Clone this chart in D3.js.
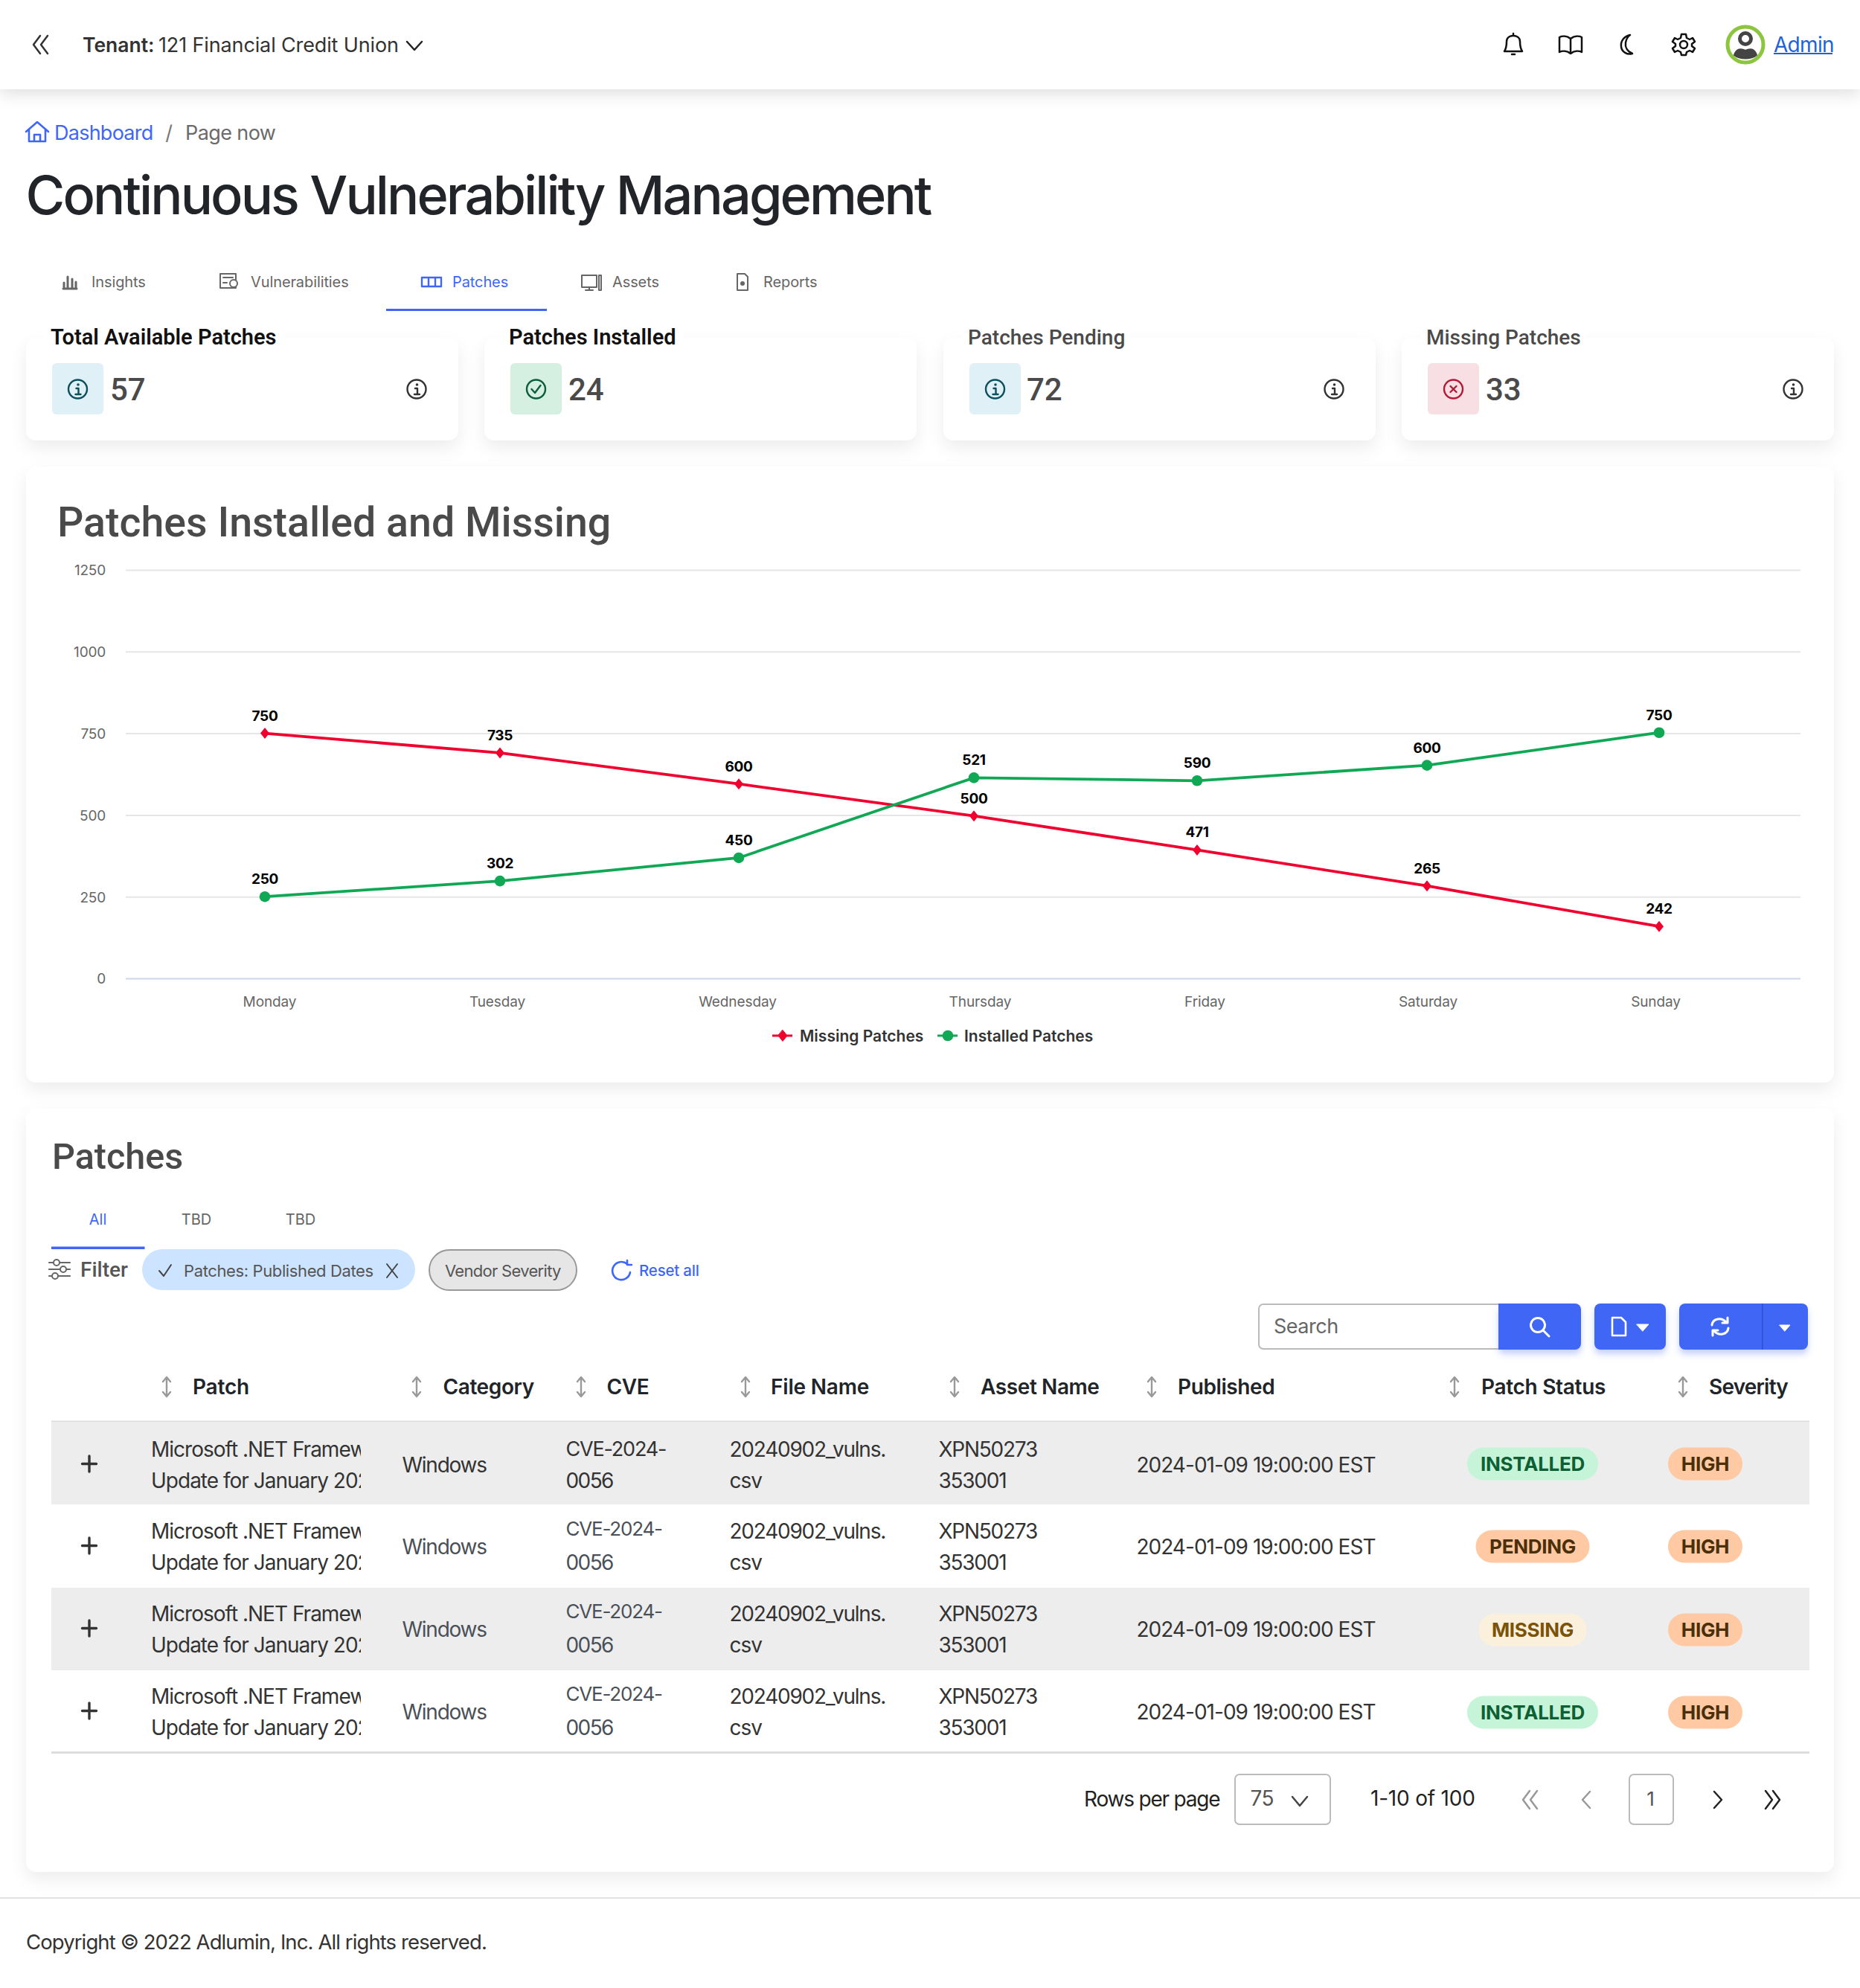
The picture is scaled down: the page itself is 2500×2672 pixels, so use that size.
<!DOCTYPE html>
<html><head><meta charset="utf-8">
<script src="https://cdn.jsdelivr.net/npm/d3@7"></script>
<style>html,body{margin:0;padding:0;background:#fff}svg{display:block}text{white-space:pre}</style>
</head><body><div id="chart"></div>
<script>
const days = ["Monday","Tuesday","Wednesday","Thursday","Friday","Saturday","Sunday"];
const missingValues = [750,690,595,497,393,283,159];
const installedValues = [250,298,369,614,605,652,752];
const missingLabels = [750,735,600,500,471,265,242];
const installedLabels = [250,302,450,521,590,600,750];
const yTicks = [0,250,500,750,1000,1250];
const seriesNames = ["Missing Patches","Installed Patches"];
const kpiTitles = ["Total Available Patches","Patches Installed","Patches Pending","Missing Patches"];
const kpiValues = [57,24,72,33];
const navTabs = ["Insights","Vulnerabilities","Patches","Assets","Reports"];
const tableTabs = ["All","TBD","TBD"];
const columns = ["Patch","Category","CVE","File Name","Asset Name","Published","Patch Status","Severity"];
const patchStatus = ["INSTALLED","PENDING","MISSING","INSTALLED"];
const patchSeverity = ["HIGH","HIGH","HIGH","HIGH"];

const FI="Inter, sans-serif", FR="Roboto, sans-serif";
const BLUE="#3f66f6";
const svg=d3.select("#chart").append("svg").attr("width",2500).attr("height",2672).attr("viewBox","0 0 2500 2672");
svg.append("rect").attr("width",2500).attr("height",2672).attr("fill","#fff");
const defs=svg.append("defs");
function shadow(id,dy,blur,color,op){
  const f=defs.append("filter").attr("id",id).attr("x","-10%").attr("y","-30%").attr("width","120%").attr("height","170%");
  f.append("feDropShadow").attr("dx",0).attr("dy",dy).attr("stdDeviation",blur).attr("flood-color",color).attr("flood-opacity",op);
}
shadow("sh",10,11,"#000",.07);
shadow("shH",6,11,"#000",.13);
shadow("shB",6,4,"#3f66f6",.3);
defs.append("clipPath").attr("id","patchClip").append("rect").attr("x",195).attr("y",1900).attr("width",290).attr("height",460);

function T(x,y,s,o={}){
  return svg.append("text").attr("x",x).attr("y",y).text(s)
    .attr("font-family",o.f||FI).attr("font-size",o.s||28).attr("font-weight",o.w||400)
    .attr("letter-spacing",o.ls||0)
    .attr("fill",o.c||"#333").attr("text-anchor",o.a||"start").attr("dominant-baseline","central");
}
function P(d,x,y,o={}){
  return svg.append("path").attr("d",d).attr("transform",`translate(${x},${y})`)
    .attr("fill",o.fill||"none").attr("stroke",o.c||"#222").attr("stroke-width",o.w||2.5)
    .attr("stroke-linecap","round").attr("stroke-linejoin","round");
}
function R(x,y,w,h,r,fill,o={}){
  const e=svg.append("rect").attr("x",x).attr("y",y).attr("width",w).attr("height",h).attr("rx",r).attr("fill",fill);
  if(o.stroke)e.attr("stroke",o.stroke).attr("stroke-width",o.sw||2);
  if(o.filter)e.attr("filter",`url(#${o.filter})`);
  return e;
}
const chev2=(c,o)=>{P("M-1,-12 L-10,0 L-1,12 M9,-12 L0,0 L9,12",0,0,{c,w:2.5}).attr("transform",o)};

// ---- header
R(0,-20,2500,140,0,"#fff",{filter:"shH"});
chev2("#333","translate(55,60)");
T(111,60,"Tenant:",{s:26.5,w:600,c:"#333"});
T(213,60,"121 Financial Credit Union",{s:27,c:"#333",ls:-.13});
P("M-10,-5 L0,6 L10,-5",557,61,{c:"#222"});
P("M-12,9 C-9,4 -9,0 -9,-4 C-9,-10 -4,-12 0,-12 C4,-12 9,-10 9,-4 C9,0 9,4 12,9 Z M0,-12 L0,-15 M-2,13 L2,13",2034,60,{c:"#111"});
P("M0,-8 C-5,-12 -11,-12 -15,-10 L-15,10 C-11,8 -5,8 0,12 C5,8 11,8 15,10 L15,-10 C11,-12 5,-12 0,-8 Z M0,-8 L0,12",2111,60,{c:"#111"});
P("M4,-13 C-5,-11 -9,-4 -8,3 C-7,10 0,14 7,12 C0,9 -3,3 -2,-3 C-1,-8 1,-11 4,-13 Z",2187,60,{c:"#111"});
P("M-3,-14 L3,-14 L4,-9 L8,-7 L12,-9 L15,-4 L11,-1 L11,2 L15,5 L12,10 L8,8 L4,10 L3,14 L-3,14 L-4,10 L-8,8 L-12,10 L-15,5 L-11,2 L-11,-1 L-15,-4 L-12,-9 L-8,-7 L-4,-9 Z",2263,60,{c:"#111"});
svg.append("circle").attr("cx",2263).attr("cy",60).attr("r",5).attr("fill","none").attr("stroke","#111").attr("stroke-width",2.5);
svg.append("circle").attr("cx",2346).attr("cy",60).attr("r",24).attr("fill","#fff").attr("stroke","#8cc63f").attr("stroke-width",5);
svg.append("circle").attr("cx",2346).attr("cy",52).attr("r",7.5).attr("fill","none").attr("stroke","#444").attr("stroke-width",5);
P("M-15,14 C-12,5 -6,5 0,8 C6,5 12,5 15,14 C8,20 -8,20 -15,14 Z",2346,60,{c:"#444",fill:"#444",w:2});
T(2384,60,"Admin",{s:28,c:"#1d63d8",ls:-.7});
R(2384,71,79,2,0,"#1d63d8");

// ---- breadcrumb + title
P("M-15,0 L0,-13 L15,0 M-11,-3 L-11,13 L11,13 L11,-3 M-4,13 L-4,4 L4,4 L4,13",50,177,{c:BLUE,w:2.6});
T(73,178,"Dashboard",{s:27,c:BLUE,ls:-.75});
T(227,178,"/",{s:27,c:"#777",a:"middle"});
T(249,178,"Page now",{s:27,c:"#6b6b6b",ls:-.6});
T(34.5,261,"Continuous Vulnerability Management",{s:72,w:500,c:"#212529",ls:-2.9});

// ---- nav tabs
const navX=[123,337,608,823,1026];
navTabs.forEach((t,i)=>T(navX[i],379,t,{s:20,c:i==2?BLUE:"#666",ls:-.1}));
const g="#666";
P("M-9,9 L-9,1 M-4,9 L-4,-7 M2,9 L2,-4 M7,9 L7,0 M-10,9 L8,9",95,379,{c:g,w:3});
P("M-12,-10 L9,-10 L9,9 L-12,9 Z M-8,-5 L5,-5 M-8,2 L-3,2",308,378,{c:g,w:2});
svg.append("circle").attr("cx",314).attr("cy",381).attr("r",5).attr("fill","#fff").attr("stroke",g).attr("stroke-width",2);
P("M-13,-6 L13,-6 L13,6 L-13,6 Z M-4,-6 L-4,6 M5,-6 L5,6",580,379,{c:BLUE,w:2.4});
P("M-13,-9 L7,-9 L7,7 L-13,7 Z M-3,7 L-3,11 M-8,11 L2,11 M10,-9 L13,-9 L13,11 L10,11 Z",795,379,{c:g,w:2});
P("M-7,-11 L3,-11 L7,-7 L7,11 L-7,11 Z",998,379,{c:g,w:2});
svg.append("circle").attr("cx",998).attr("cy",381).attr("r",3).attr("fill",g);
R(519,415,216,3,0,BLUE);

// ---- KPI cards
const cardX=[35,651,1268,1884], kpiSq=["#dff0f6","#d5efe0","#dff0f6","#f8dfe3"], kpiIc=["#0d4f5c","#0d5c3c","#0d4f5c","#b01c38"];
const kpiTitleC=["#111","#111","#4a4a4a","#4a4a4a"];
const infoI=(x,y,c)=>{
  svg.append("circle").attr("cx",x).attr("cy",y).attr("r",12.5).attr("fill","none").attr("stroke",c).attr("stroke-width",2.4);
  P("M-2,-1 L1,-1 L1,7 M-3,7 L4,7",x,y,{c,w:2.4});
  svg.append("circle").attr("cx",x+.5).attr("cy",y-6).attr("r",1.8).attr("fill",c);
};
kpiTitles.forEach((t,i)=>{
  const x=cardX[i];
  R(x,454,581,138,14,"#fff",{filter:"sh"});
  R(x+24,440,[323,244,227,224][i],24,0,"#fff");
  T(x+33,453,t,{f:FR,s:i<2?29:28,w:i<2?600:500,c:kpiTitleC[i]});
  R(x+35,488,69,69,6,kpiSq[i]);
  const c=kpiIc[i], ix=x+69.5;
  if(i==1){svg.append("circle").attr("cx",ix).attr("cy",523).attr("r",12.5).attr("fill","none").attr("stroke",c).attr("stroke-width",2.4);P("M-6,0 L-1.5,5 L6,-5",ix,523,{c,w:2.4});}
  else if(i==3){svg.append("circle").attr("cx",ix).attr("cy",523).attr("r",12.5).attr("fill","none").attr("stroke",c).attr("stroke-width",2.4);P("M-4,-4 L4,4 M4,-4 L-4,4",ix,523,{c,w:2.4});}
  else infoI(ix,523,c);
  T(x+[113,113,112,113][i],523,String(kpiValues[i]),{f:FR,s:42,w:500,c:"#4a4a4a"});
  if(i!=1) infoI(x+[525,0,525,526][i],523,"#333");
});

// ---- chart card
R(35,627,2430,828,14,"#fff",{filter:"sh"});
T(77,702,"Patches Installed and Missing",{f:FR,s:55.5,w:500,c:"#4a4a4a"});

const pointX=d3.scaleOrdinal(days,[356,672,993,1309,1609,1918,2230]);
const labelX=d3.scaleOrdinal(days,[362,668,991,1317,1619,1919,2225]);
const y=d3.scaleLinear().domain([0,1250]).range([1315,766]);
const gridLeft=169, gridRight=2420;

const yAxis=svg.append("g").attr("transform",`translate(${gridLeft},0)`)
  .call(d3.axisLeft(y).tickValues(yTicks).tickFormat(d3.format("d")).tickSize(-(gridRight-gridLeft)).tickPadding(27));
yAxis.select(".domain").remove();
yAxis.selectAll(".tick line").attr("stroke",d=>d===0?"#ccd6eb":"#e6e6e6").attr("stroke-width",2);
yAxis.selectAll(".tick text").attr("font-family",FI).attr("font-size",19).attr("fill","#666").attr("letter-spacing",-.2).attr("dy","0.36em");

const xAxis=svg.append("g").attr("transform","translate(0,1315)")
  .call(d3.axisBottom(labelX).tickSize(0).tickPadding(25));
xAxis.select(".domain").remove();
xAxis.selectAll(".tick text").attr("font-family",FI).attr("font-size",19).attr("fill","#666").attr("letter-spacing",-.1);

const line=v=>d3.line().x((d,i)=>pointX(days[i])).y(d=>y(d))(v);
const RED="#f0002e", GREEN="#10a855";
svg.append("path").attr("d",line(missingValues)).attr("fill","none").attr("stroke",RED).attr("stroke-width",3.8);
svg.append("path").attr("d",line(installedValues)).attr("fill","none").attr("stroke",GREEN).attr("stroke-width",3.8);
const diamond="M0,-7.5 L6,0 L0,7.5 L-6,0 Z";
svg.selectAll("path.mk").data(missingValues).join("path").attr("class","mk").attr("d",diamond)
  .attr("transform",(d,i)=>`translate(${pointX(days[i])},${y(d)})`).attr("fill",RED);
svg.selectAll("circle.mk").data(installedValues).join("circle").attr("class","mk")
  .attr("cx",(d,i)=>pointX(days[i])).attr("cy",d=>y(d)).attr("r",7.3).attr("fill",GREEN);
const dl=(vals,labs,cls)=>svg.selectAll("text."+cls).data(vals).join("text").attr("class",cls)
  .attr("x",(d,i)=>pointX(days[i])).attr("y",d=>y(d)-23.5).attr("text-anchor","middle").attr("dominant-baseline","central")
  .attr("font-family",FI).attr("font-size",19).attr("font-weight",700).attr("letter-spacing",-.3).attr("fill","#000").text((d,i)=>labs[i]);
dl(missingValues,missingLabels,"dlm");
dl(installedValues,installedLabels,"dli");

// legend
R(1038,1390.5,27,3,0,RED); P(diamond,1052,1392,{c:RED,fill:RED,w:1});
T(1075,1392,seriesNames[0],{s:21,w:600,c:"#333"});
R(1260,1390.5,27,3,0,GREEN); svg.append("circle").attr("cx",1274).attr("cy",1392).attr("r",7.3).attr("fill",GREEN);
T(1296,1392,seriesNames[1],{s:21,w:600,c:"#333"});

// ---- table card
R(35,1490,2430,1026,14,"#fff",{filter:"sh"});
T(70,1554,"Patches",{f:FR,s:48.5,w:500,c:"#4a4a4a"});
tableTabs.forEach((t,i)=>T([131.5,264,404][i],1639,t,{s:20,c:i==0?BLUE:"#666",a:"middle"}));
R(69,1675.5,125.5,3.5,0,BLUE);

// filter row
P("M-14,-9 L14,-9 M-14,0 L14,0 M-14,9 L14,9",80,1706,{c:"#666",w:2.2});
[[-4,-9],[5,0],[-6,9]].forEach(p=>svg.append("circle").attr("cx",80+p[0]).attr("cy",1706+p[1]).attr("r",4).attr("fill","#fff").attr("stroke","#666").attr("stroke-width",2));
T(108,1706,"Filter",{f:FR,s:28,w:500,c:"#555"});
R(191,1679,367,55,27.5,"#cce4ff");
P("M-8,0 L-2,7 L8,-8",222,1708,{c:"#444",w:2});
T(247,1708,"Patches: Published Dates",{s:22,c:"#555",ls:-.38});
P("M-7,-9 L7,9 M7,-9 L-7,9",527,1708,{c:"#444",w:2});
R(577,1680,198,54,27,"#e6e6e6",{stroke:"#999",sw:2});
T(598,1708,"Vendor Severity",{s:22,c:"#555",ls:-.7});
P("M8,-9 A12,12 0 1 0 12,2 M8,-14 L8,-8 L14,-8",835,1708,{c:BLUE,w:2.6});
T(859,1707,"Reset all",{s:20.5,w:500,c:BLUE,ls:-.2});

// search + buttons
R(1692,1753,330,60,6,"#fff",{stroke:"#bbb",sw:2});
T(1712,1782,"Search",{s:27,c:"#666",ls:-.5});
R(2014,1752,111,62,8,BLUE,{filter:"shB"}); R(2014,1752,20,62,0,BLUE);
svg.append("circle").attr("cx",2067).attr("cy",1781).attr("r",9.5).attr("fill","none").attr("stroke","#fff").attr("stroke-width",3);
P("M5,5 L13,13",2069,1783,{c:"#fff",w:3});
R(2143,1752,96,62,8,BLUE,{filter:"shB"});
P("M-9,-12 L3,-12 L9,-6 L9,12 L-9,12 Z",2176,1783,{c:"#fff",w:2.6});
P("M-8,-4 L8,-4 L0,5 Z",2208,1784,{c:"#fff",fill:"#fff",w:1});
R(2257,1752,173,62,8,BLUE,{filter:"shB"});
R(2368,1752,1.5,62,0,"#2f4fcf");
P("M-11,-2 C-10,-11 2,-13 8,-6 M10,-12 L10,-5 L3,-5 M11,2 C10,11 -2,13 -8,6 M-10,12 L-10,5 L-3,5",2312,1783,{c:"#fff",w:3});
P("M-7,-4 L7,-4 L0,4 Z",2399,1785,{c:"#fff",fill:"#fff",w:1});

// table header
const headX=[259,595.5,815.5,1036,1318,1583,1991,2297], arrX=[224,560,781,1002,1283,1548,1955,2262];
const headLs=[-.2,-.4,-.4,-.2,-.4,-.4,-.3,-.8];
columns.forEach((c,i)=>{
  T(headX[i],1863.5,c,{s:28,w:600,c:"#212529",ls:headLs[i]});
  P("M0,-12 L0,12 M-5,-7 L0,-13 L5,-7 M-5,7 L0,13 L5,7",arrX[i],1864,{c:"#999",w:2.4});
});
R(69,1909.5,2363,2,0,"#ddd");

// rows
const rowTop=[1911,2022,2134,2245], rowH=111;
const statusStyle={INSTALLED:{bg:"#c6f4d8",fg:"#0d6033",w:176},PENDING:{bg:"#ffc9a3",fg:"#4a2f08",w:153},MISSING:{bg:"#fbf0dc",fg:"#7a5208",w:145}};
rowTop.forEach((top,i)=>{
  if(i%2==0) R(69,top,2363,rowH,0,"#ededed");
  const cy=top+rowH/2+[2,1,0,0][i], dark="#333", soft="#4a5058";
  P("M-9.5,0 L9.5,0 M0,-10.5 L0,10.5",120,cy-1,{c:"#333",w:3.4});
  [["Microsoft .NET Framework","Update for January 2024"]].forEach(l=>{
    T(203,cy-21,l[0],{s:28,c:dark,ls:-1}).attr("clip-path","url(#patchClip)");
    T(203,cy+21,l[1],{s:28,c:dark,ls:-1}).attr("clip-path","url(#patchClip)");
  });
  T(540.5,cy,"Windows",{s:28,c:i==0?dark:soft,ls:-1.25});
  T(760.5,cy-(i==0?21:24),"CVE-2024-",{s:i==0?27:26,c:i==0?dark:soft,ls:-1.2});
  T(760.5,cy+21,"0056",{s:28,c:i==0?dark:soft,ls:-1.6});
  T(980.5,cy-21,"20240902_vulns.",{s:28,c:dark,ls:-1.25});
  T(980.5,cy+21,"csv",{s:28,c:dark,ls:-1});
  T(1261.5,cy-21,"XPN50273",{s:28,c:dark,ls:-1.25});
  T(1261.5,cy+21,"353001",{s:28,c:dark,ls:-1.25});
  T(1527.4,cy,"2024-01-09 19:00:00 EST",{s:28,c:dark,ls:-.97});
  const pc=top+rowH/2+1, st=statusStyle[patchStatus[i]];
  R(2060-st.w/2,pc-22,st.w,44,22,st.bg);
  T(2060,pc,patchStatus[i],{s:26,w:700,c:st.fg,a:"middle",ls:-.3});
  R(2242,pc-22,100,44,22,"#ffc9a3");
  T(2292,pc,patchSeverity[i],{s:26,w:700,c:"#4a2f08",a:"middle",ls:-.3});
});
R(69,2354,2363,3,0,"#ddd");

// pagination
T(1457,2418,"Rows per page",{s:28,c:"#222",ls:-1.2});
R(1660,2385,128,67,6,"#fff",{stroke:"#bbb",sw:2});
T(1680.5,2417,"75",{s:28,c:"#555",ls:-.5});
P("M-10,-5 L0,7 L10,-5",1747,2420,{c:"#444"});
T(1842,2417,"1-10 of 100",{s:28,c:"#222",ls:-.2});
chev2("#999","translate(2057,2419)");
P("M5,-11 L-5,0 L5,11",2132,2419,{c:"#999"});
R(2190,2385,59,67,6,"#fff",{stroke:"#bbb",sw:2});
T(2218.6,2417,"1",{s:26,c:"#555",a:"middle"});
P("M-5,-11 L5,0 L-5,11",2309,2419,{c:"#222"});
P("M-9,-12 L0,0 L-9,12 M1,-12 L10,0 L1,12",2382,2419,{c:"#222"});

// footer
R(0,2550,2500,2,0,"#e2e2e2");
T(35,2610,"Copyright © 2022 Adlumin, Inc. All rights reserved.",{s:27.5,c:"#333",ls:-.9});
</script></body></html>
